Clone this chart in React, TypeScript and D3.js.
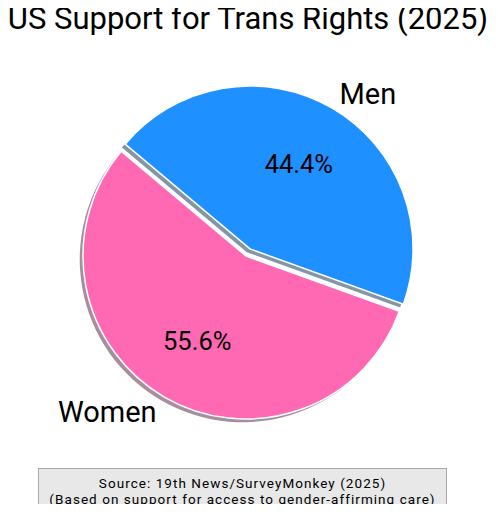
import React from 'react';
import * as d3 from 'd3';

const labels = ['Women', 'Men'];
const values = [55.6, 44.4];
const colors = ['#FF69B4', '#1E90FF'];
const explode = [0, 0.05];
const sourceLines = [
  'Source: 19th News/SurveyMonkey (2025)',
  '(Based on support for access to gender-affirming care)',
];

const W = 498;
const H = 512;
const FONT = 'Roboto, sans-serif';

// matplotlib-like shadow: 0.3 * colour, half transparent
const shadeOf = (c: string) => {
  const rgb = d3.rgb(c);
  return d3.rgb(rgb.r * 0.3, rgb.g * 0.3, rgb.b * 0.3).toString();
};

const App: React.FC = () => {
  const cx = 246;
  const cy = 256;
  const R = 163;
  const toRad = Math.PI / 180;

  // start at 140deg (math), counter-clockwise -> d3 angle -50deg, decreasing
  const pie = d3.pie<number>().sort(null).value((d) => d)
    .startAngle(-50 * toRad).endAngle(-410 * toRad);
  const arcs = pie(values);
  const arc = d3.arc<d3.PieArcDatum<number>>().innerRadius(0).outerRadius(R);

  const offsetOf = (a: d3.PieArcDatum<number>, i: number) => {
    const mid = (a.startAngle + a.endAngle) / 2;
    const d = explode[i] * R;
    return [Math.sin(mid) * d, -Math.cos(mid) * d];
  };
  const sh = 0.02 * R;

  return (
    <div style={{ margin: -8 }}>
      <svg width={W} height={H} style={{ display: 'block', background: '#fff' }}>
        <text x={248} y={29} textAnchor="middle" fontFamily={FONT} fontSize={31} fill="#000">
          US Support for Trans Rights (2025)
        </text>
        <g transform={`translate(${cx},${cy})`}>
          {arcs.map((a, i) => {
            const [ox, oy] = offsetOf(a, i);
            return (
              <path key={'s' + i} d={arc(a) ?? ''} transform={`translate(${ox - sh},${oy + sh})`}
                fill={shadeOf(colors[i])} fillOpacity={0.5} />
            );
          })}
          {arcs.map((a, i) => {
            const [ox, oy] = offsetOf(a, i);
            return (
              <path key={'w' + i} d={arc(a) ?? ''} transform={`translate(${ox},${oy})`}
                fill={colors[i]} stroke="#fff" strokeWidth={1.5} strokeLinejoin="round" />
            );
          })}
          {arcs.map((a, i) => {
            const [ox, oy] = offsetOf(a, i);
            const mid = (a.startAngle + a.endAngle) / 2;
            const lx = ox + Math.sin(mid) * R * 1.1;
            const ly = oy - Math.cos(mid) * R * 1.1;
            const px = ox + Math.sin(mid) * R * 0.6;
            const py = oy - Math.cos(mid) * R * 0.6;
            return (
              <g key={'t' + i}>
                <text x={lx} y={ly} dy="0.35em" textAnchor={lx > 0 ? 'start' : 'end'}
                  fontFamily={FONT} fontSize={29} fill="#000">{labels[i]}</text>
                <text x={px} y={py} dy="0.35em" textAnchor="middle"
                  fontFamily={FONT} fontSize={25.5} fill="#000">{values[i].toFixed(1)}%</text>
              </g>
            );
          })}
        </g>
        <rect x={38.5} y={468.5} width={408} height={50} fill="#e8e8e8" stroke="#a8a8a8" />
        {sourceLines.map((s, i) => (
          <text key={s} x={242.5} y={487.5 + i * 16} textAnchor="middle" fontFamily={FONT}
            fontSize={13.5} letterSpacing={1.05} fill="#000">{s}</text>
        ))}
      </svg>
    </div>
  );
};

export default App;
